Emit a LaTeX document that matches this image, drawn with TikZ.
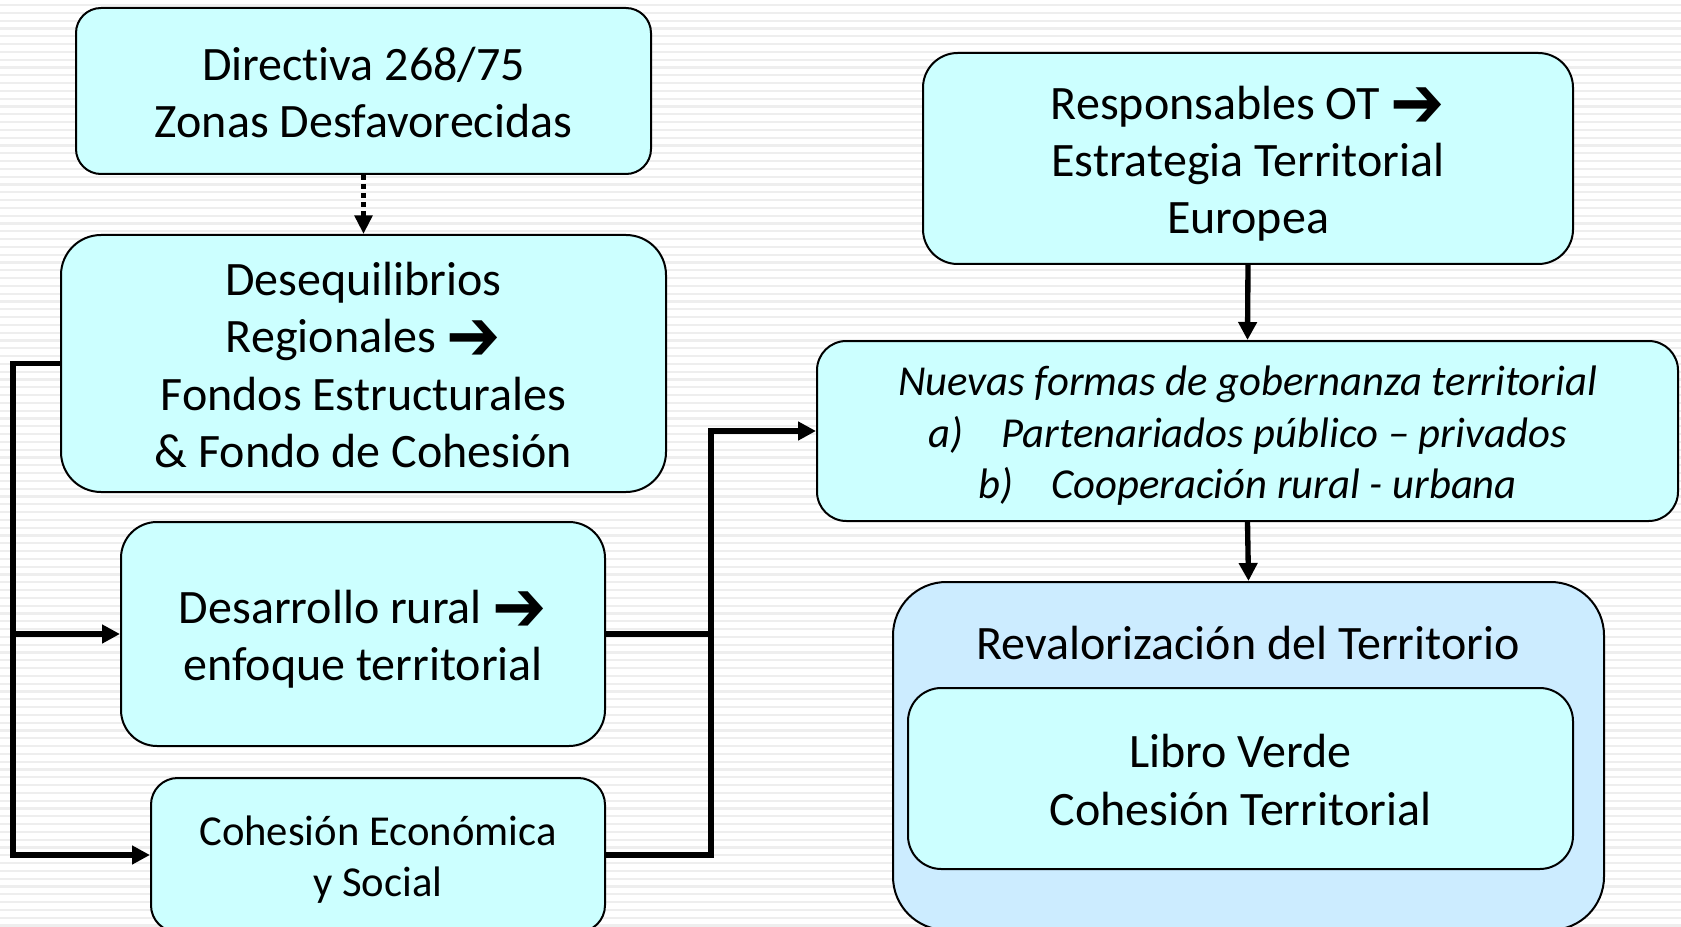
\documentclass[tikz,border=0pt]{standalone}
\usepackage{fontspec}
\setmainfont{Carlito}[Ligatures={NoCommon}]
\newfontfamily\symf{DejaVu Sans}
\usetikzlibrary{arrows.meta}
\definecolor{boxc}{RGB}{204,255,255}
\definecolor{outerc}{RGB}{204,236,255}
\definecolor{stripe}{RGB}{238,238,238}
\newcommand\fbig{\fontsize{36}{43.1}\selectfont}
\newcommand\fsmall{\fontsize{32}{38.5}\selectfont}
\newcommand\rarr{\raisebox{-0.17em}[0pt][0pt]{\scalebox{1.35}[1.5]{\symf\bfseries ➔}}}
\newcommand\ts{\rule{0pt}{0.95em}}
\newcommand\bs{\rule[-0.2em]{0pt}{0pt}}
\begin{document}
\begin{tikzpicture}[x=0.75pt,y=-0.75pt,
  box/.style={draw=black, line width=1.5pt, fill=boxc, align=center, inner sep=0pt, font=\fbig},
  conn/.style={line width=4pt, -{Triangle[length=13.5pt,width=13.5pt]}},
  plain/.style={line width=4pt},
  dasharrow/.style={line width=3.5pt, dash pattern=on 3.75pt off 3pt, -{Triangle[length=14pt,width=13pt]}}
]
\useasboundingbox (0,0) rectangle (1681,927);
\clip (0,0) rectangle (1681,927);
\fill[white] (0,0) rectangle (1681,927);
\foreach \i in {0,...,119} \fill[stripe] (0,{4+7.8*\i}) rectangle (1681,{6.2+7.8*\i});

\node[box, minimum width=431.25pt, minimum height=124.5pt, rounded corners=18.75pt] (b1) at (363.5,91)
  {\ts Directiva 268/75\\Zonas Desfavorecidas\bs};
\node[box, minimum width=453.75pt, minimum height=192.75pt, rounded corners=30pt] (b2) at (363.5,363.5)
  {\ts Desequilibrios\\Regionales \rarr\\Fondos Estructurales\\\& Fondo de Cohesión\bs};
\node[box, minimum width=363pt, minimum height=168pt, rounded corners=27pt] (b3) at (363,634)
  {\ts Desarrollo rural \rarr\\enfoque territorial\bs};
\node[box, minimum width=340.5pt, minimum height=115.5pt, rounded corners=20pt, font=\fsmall] (b4) at (378,855)
  {\ts Cohesión Económica\\y Social\bs};
\node[box, minimum width=487.5pt, minimum height=158.25pt, rounded corners=26pt] (b5) at (1248,158.5)
  {\ts Responsables OT \rarr\\Estrategia Territorial\\Europea\bs};
\node[box, minimum width=645.75pt, minimum height=135pt, rounded corners=22pt, font=\fsmall\itshape] (b6) at (1247.5,431)
  {\ts Nuevas formas de gobernanza territorial\\a)\hspace{0.9em}Partenariados público – privados\\b)\hspace{0.9em}Cooperación rural - urbana\bs};
\node[box, fill=outerc, minimum width=533.25pt, minimum height=261pt, rounded corners=40pt] (b7) at (1248.5,756) {};
\node[font=\fbig, inner sep=0pt] (t7) at (1248,641) {\ts Revalorización del Territorio\bs};
\node[box, minimum width=498.75pt, minimum height=135.75pt, rounded corners=25pt] (b8) at (1240.5,778.5)
  {\ts Libro Verde\\Cohesión Territorial\bs};

\coordinate (L) at (13,0);
\coordinate (R) at (711,0);
\draw[dasharrow] (b1.south) -- (b2.north);
\draw[conn] (b5.south) -- (b6.north);
\draw[conn] (b6.south) -- (b7.north);
\draw[conn] (b2.west) -- (b2.west -| L) |- (b4.west);
\draw[conn] (b3.west -| L) -- (b3.west);
\draw[plain] (b3.east) -- (b3.east -| R);
\draw[conn] (b4.east) -| (R |- b6.west) -- (b6.west);
\end{tikzpicture}
\end{document}
